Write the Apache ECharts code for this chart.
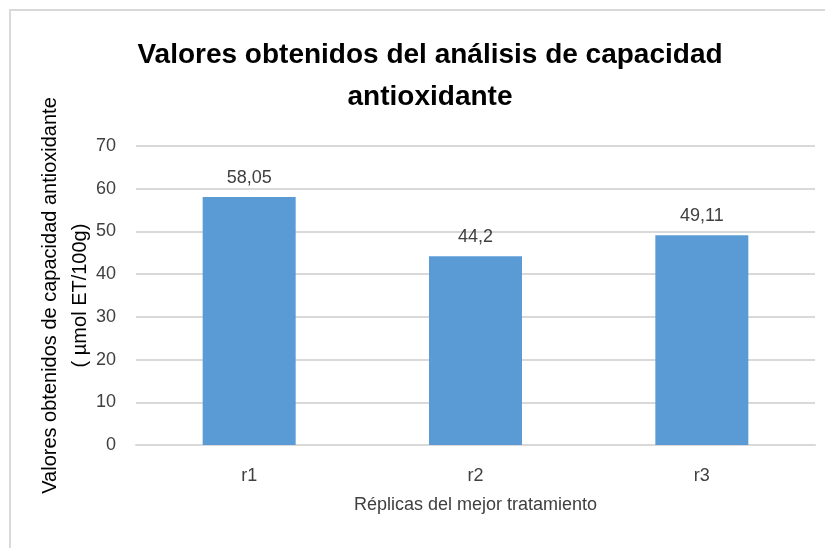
<!DOCTYPE html>
<html>
<head>
<meta charset="utf-8">
<script src="https://cdn.jsdelivr.net/npm/echarts@6/dist/echarts.min.js"></script>
<style>
  html, body { margin: 0; padding: 0; background: #fff; }
  #chart { width: 825px; height: 548px; }
</style>
</head>
<body>
<div id="chart"></div>
<script>
// datos de la gráfica
var categories = ['r1', 'r2', 'r3']
var values = [58.05, 44.2, 49.11]
var yTicks = [0, 10, 20, 30, 40, 50, 60, 70]

var font = "'Liberation Sans', sans-serif"

var myChart = echarts.init(document.getElementById('chart'))

var option = {
  animation: false,
  backgroundColor: '#fff',
  textStyle: { fontFamily: font },
  // marco del gráfico (se corta a la derecha y abajo)
  graphic: [{
    type: 'rect',
    shape: { x: 10, y: 10, width: 900, height: 600 },
    style: { fill: 'none', stroke: '#d9d9d9', lineWidth: 2 },
    silent: true
  }],
  title: {
    text: 'Valores obtenidos del análisis de capacidad\nantioxidante',
    left: 425,
    textAlign: 'center',
    top: 29,
    textStyle: {
      fontFamily: font,
      fontWeight: 'bold',
      fontSize: 28,
      lineHeight: 42,
      color: '#000'
    }
  },
  grid: {
    left: 136,
    right: 10,
    top: 146,
    bottom: 103,
    containLabel: false
  },
  xAxis: {
    type: 'category',
    data: categories,
    name: 'Réplicas del mejor tratamiento',
    nameLocation: 'middle',
    nameGap: 51,
    nameTextStyle: { fontSize: 18, color: '#404040', fontFamily: font },
    axisLine: { lineStyle: { color: '#d9d9d9', width: 2 } },
    axisTick: { show: false },
    axisLabel: { fontSize: 18, color: '#404040', margin: 22 }
  },
  yAxis: {
    type: 'value',
    min: yTicks[0],
    max: yTicks[yTicks.length - 1],
    interval: 10,
    name: 'Valores obtenidos de capacidad antioxidante\n( µmol ET/100g)',
    nameLocation: 'middle',
    nameGap: 41,
    nameMoveOverlap: false,
    nameTextStyle: { fontSize: 20, lineHeight: 30, color: '#000', fontFamily: font },
    axisLine: { show: false },
    axisTick: { show: false },
    axisLabel: { fontSize: 18, color: '#404040', margin: 20 },
    splitLine: { lineStyle: { color: '#d9d9d9', width: 2 } }
  },
  series: [{
    type: 'bar',
    data: values,
    barWidth: 93,
    itemStyle: { color: '#5b9bd5' },
    label: {
      show: true,
      position: 'top',
      distance: 10,
      fontSize: 18,
      color: '#404040',
      formatter: function(p) {
        return String(p.value).replace('.', ',')
      }
    }
  }]
}

myChart.setOption(option)
</script>
</body>
</html>
